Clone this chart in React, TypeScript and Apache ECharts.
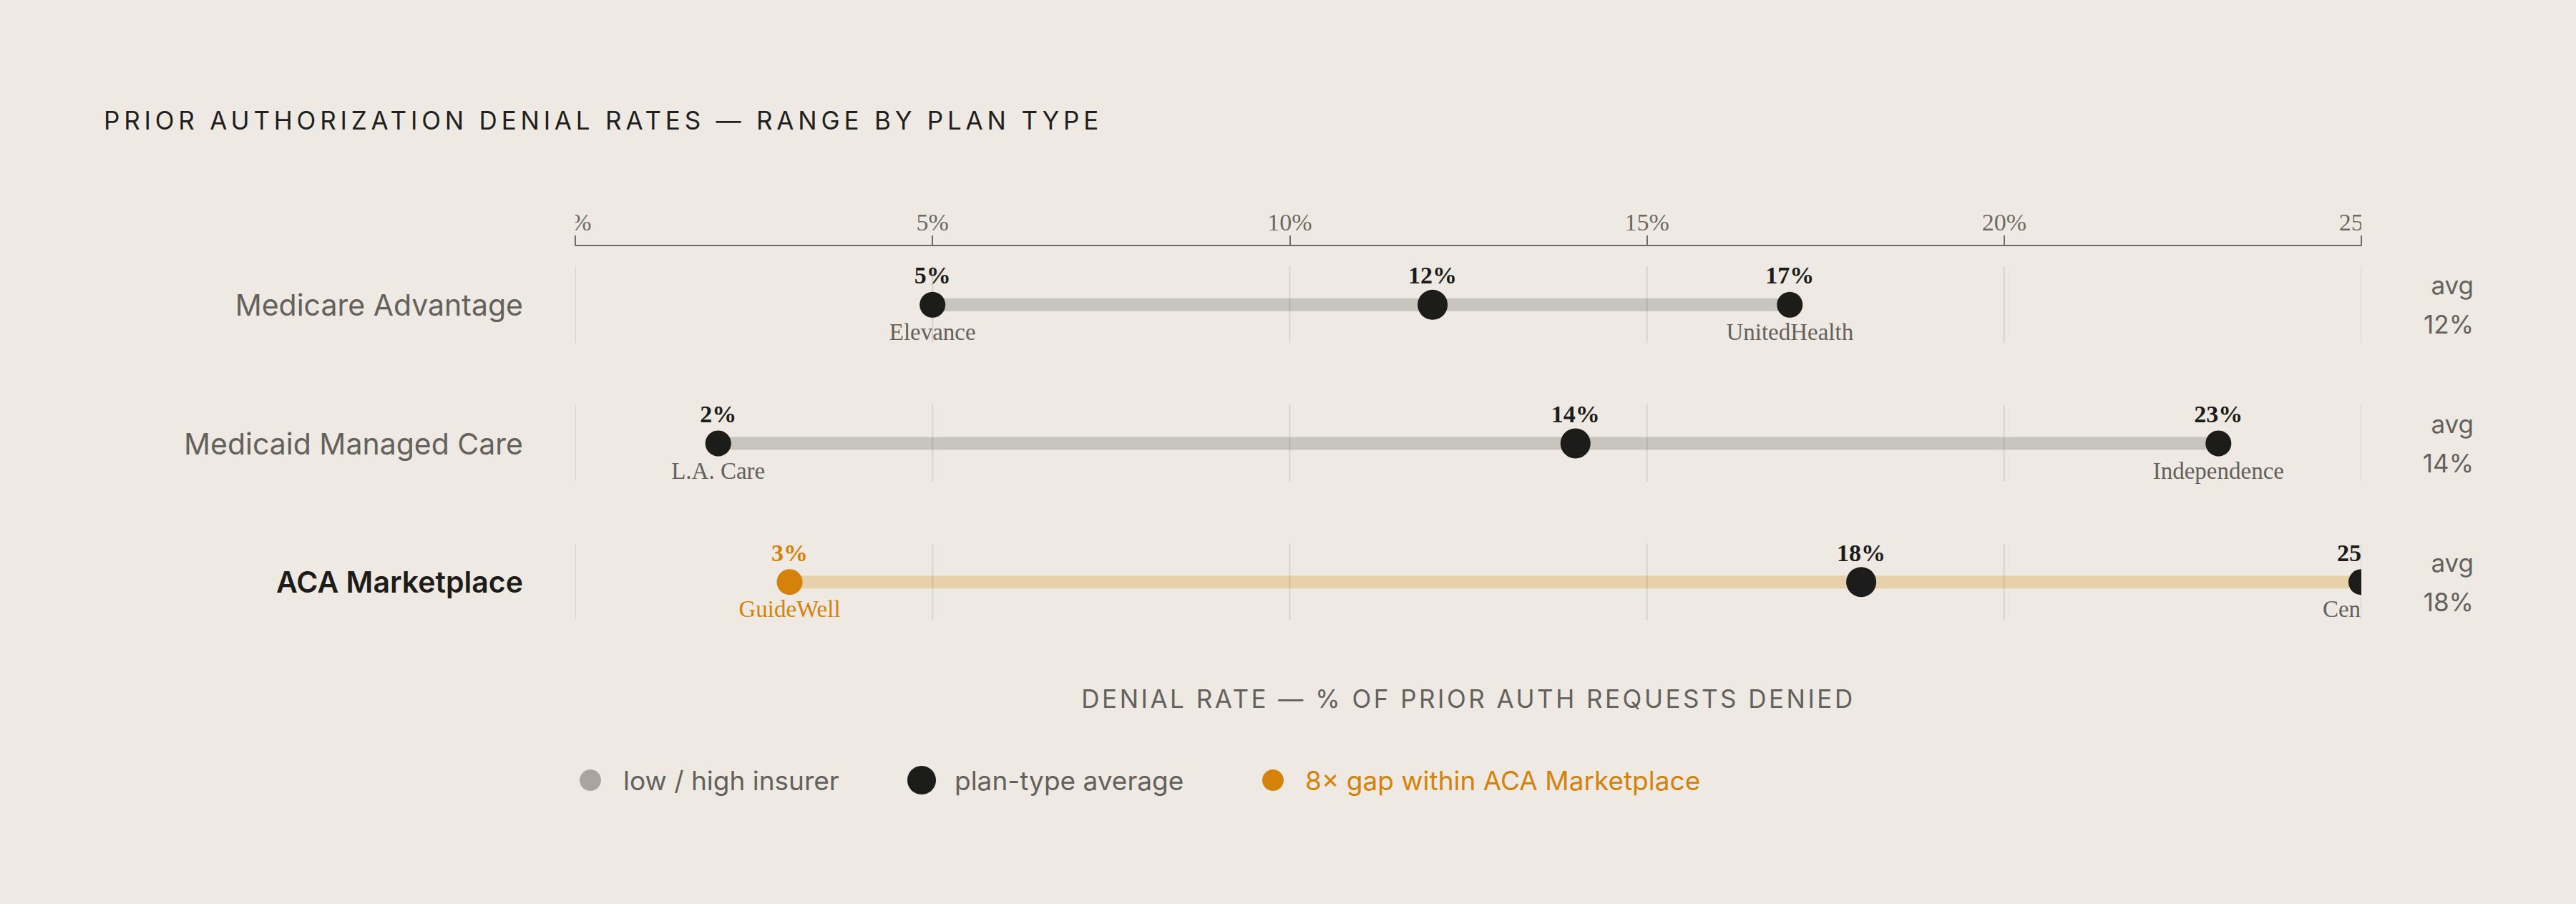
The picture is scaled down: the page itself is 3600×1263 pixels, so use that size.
import React, { useEffect, useRef } from "react";
import * as echarts from "echarts";

// ---- data ----
const PLAN_TYPES = ["Medicare Advantage", "Medicaid Managed Care", "ACA Marketplace"];
const LOW_VALUES = [5, 2, 3];
const AVG_VALUES = [12, 14, 18];
const HIGH_VALUES = [17, 23, 25];
const LOW_INSURERS = ["Elevance", "L.A. Care", "GuideWell"];
const HIGH_INSURERS = ["UnitedHealth", "Independence", "Centene"];
const TICK_VALUES = [0, 5, 10, 15, 20, 25];
const HIGHLIGHT_ROW = 2;

const TITLE = "PRIOR AUTHORIZATION DENIAL RATES — RANGE BY PLAN TYPE";
const AXIS_TITLE = "DENIAL RATE — % OF PRIOR AUTH REQUESTS DENIED";
const LEGEND_LABELS = ["low / high insurer", "plan-type average", "8× gap within ACA Marketplace"];

// ---- styles ----
const BG = "#eeeae3";
const DARK = "#1c1c1a";
const GREY_TEXT = "#64615c";
const ORANGE = "#d4820a";
const SANS = "Inter, 'Noto Sans', sans-serif";
const SERIF = "'Liberation Serif', 'DejaVu Serif', serif";

export default function App() {
  const ref = useRef<HTMLDivElement>(null);

  useEffect(() => {
    document.body.style.margin = "0";
    document.body.style.background = BG;
    const el = ref.current!;
    const chart = echarts.init(el, null, { renderer: "svg" });

    const rows = PLAN_TYPES.map((_, i) => [LOW_VALUES[i], AVG_VALUES[i], HIGH_VALUES[i], i]);

    const option: any = {
      animation: false,
      backgroundColor: BG,
      grid: [
        { left: 804, top: 329, width: 2496, height: 581 },
        { left: 804, top: 280, width: 2496, height: 63 },
      ],
      xAxis: [
        {
          type: "value",
          gridIndex: 0,
          min: 0,
          max: 25,
          interval: 5,
          axisLine: { show: false },
          axisTick: { show: false },
          axisLabel: { show: false },
          splitLine: { show: false },
        },
        {
          type: "value",
          gridIndex: 1,
          min: 0,
          max: 25,
          interval: 5,
          position: "bottom",
          axisLine: { show: true, lineStyle: { color: "#6f6c66", width: 2 } },
          axisTick: { show: true, inside: true, length: 14, lineStyle: { color: "#6f6c66", width: 2 } },
          axisLabel: { show: false },
          splitLine: { show: false },
        },
      ],
      yAxis: [
        {
          type: "category",
          gridIndex: 0,
          inverse: true,
          data: PLAN_TYPES,
          axisLine: { show: false },
          axisTick: { show: false },
          splitLine: { show: false },
          axisLabel: {
            margin: 73,
            fontFamily: SANS,
            fontSize: 41,
            color: GREY_TEXT,
            formatter: (v: string, i: number) => (i === HIGHLIGHT_ROW ? `{b|${v}}` : v),
            rich: {
              b: { fontFamily: SANS, fontSize: 41, fontWeight: 600, color: DARK },
            },
          },
        },
        {
          type: "category",
          gridIndex: 0,
          inverse: true,
          position: "right",
          data: PLAN_TYPES,
          axisLine: { show: false },
          axisTick: { show: false },
          splitLine: { show: false },
          axisLabel: {
            margin: 157,
            align: "right",
            fontFamily: SANS,
            fontSize: 35,
            lineHeight: 55,
            color: GREY_TEXT,
            formatter: (_v: string, i: number) => `avg\n${AVG_VALUES[i]}%`,
          },
        },
        { type: "value", gridIndex: 1, min: 0, max: 1, show: false },
      ],
      series: [
        {
          type: "custom",
          name: "ticks",
          xAxisIndex: 1,
          yAxisIndex: 2,
          clip: true,
          data: TICK_VALUES.map((v) => [v, 0]),
          encode: { x: 0, y: 1 },
          renderItem: (params: any, api: any) => {
            const v = api.value(0);
            const p = api.coord([v, 0]);
            return {
              type: "text",
              x: p[0],
              y: p[1] - 33,
              style: {
                text: `${v}%`,
                fill: "#6d6a64",
                fontFamily: SERIF,
                fontSize: 34,
                align: "center",
                verticalAlign: "middle",
              },
            };
          },
        },
        {
          type: "custom",
          name: "ranges",
          xAxisIndex: 0,
          yAxisIndex: 0,
          clip: true,
          data: rows,
          encode: { x: [0, 1, 2], y: 3 },
          renderItem: (params: any, api: any) => {
            const row = params.dataIndex;
            const low = api.value(0);
            const avg = api.value(1);
            const high = api.value(2);
            const [xl, yc] = api.coord([low, row]);
            const [xa] = api.coord([avg, row]);
            const [xh] = api.coord([high, row]);
            const hl = row === HIGHLIGHT_ROW;
            const children: any[] = [];
            children.push({
              type: "rect",
              shape: { x: xl, y: yc - 9, width: xh - xl, height: 18 },
              style: { fill: hl ? "#e7d1ab" : "#c8c5be" },
            });
            TICK_VALUES.forEach((t) => {
              const [xt] = api.coord([t, row]);
              children.push({
                type: "line",
                shape: { x1: xt, y1: yc - 54, x2: xt, y2: yc + 53 },
                style: { stroke: "rgba(70,60,50,0.13)", lineWidth: 2 },
              });
            });
            const lowColor = hl ? ORANGE : DARK;
            children.push({ type: "circle", shape: { cx: xl, cy: yc, r: 18 }, style: { fill: lowColor } });
            children.push({ type: "circle", shape: { cx: xh, cy: yc, r: 18 }, style: { fill: DARK } });
            children.push({ type: "circle", shape: { cx: xa, cy: yc, r: 21 }, style: { fill: DARK } });
            const valueLabel = (x: number, v: number, color: string) => ({
              type: "text",
              x,
              y: yc - 41,
              style: {
                text: `${v}%`,
                fill: color,
                fontFamily: SERIF,
                fontSize: 34,
                fontWeight: "bold",
                align: "center",
                verticalAlign: "middle",
              },
            });
            const nameLabel = (x: number, s: string, color: string) => ({
              type: "text",
              x,
              y: yc + 38,
              style: {
                text: s,
                fill: color,
                fontFamily: SERIF,
                fontSize: 33,
                align: "center",
                verticalAlign: "middle",
              },
            });
            children.push(valueLabel(xl, low, lowColor));
            children.push(valueLabel(xa, avg, DARK));
            children.push(valueLabel(xh, high, DARK));
            children.push(nameLabel(xl, LOW_INSURERS[row], hl ? ORANGE : GREY_TEXT));
            children.push(nameLabel(xh, HIGH_INSURERS[row], GREY_TEXT));
            return { type: "group", children };
          },
        },
      ],
      graphic: [
        {
          type: "text",
          x: 145,
          y: 168,
          style: {
            text: TITLE,
            fill: "#1f1f1d",
            fontFamily: SANS,
            fontSize: 35,
            align: "left",
            verticalAlign: "middle",
          },
        },
        {
          type: "text",
          x: 2052,
          y: 976,
          style: {
            text: AXIS_TITLE,
            fill: GREY_TEXT,
            fontFamily: SANS,
            fontSize: 35,
            align: "center",
            verticalAlign: "middle",
          },
        },
        { type: "circle", shape: { cx: 825, cy: 1090, r: 15 }, style: { fill: "#a8a59e" } },
        {
          type: "text",
          x: 871,
          y: 1090,
          style: { text: LEGEND_LABELS[0], fill: GREY_TEXT, fontFamily: SANS, fontSize: 37, verticalAlign: "middle" },
        },
        { type: "circle", shape: { cx: 1288, cy: 1090, r: 20 }, style: { fill: DARK } },
        {
          type: "text",
          x: 1334,
          y: 1090,
          style: { text: LEGEND_LABELS[1], fill: GREY_TEXT, fontFamily: SANS, fontSize: 37, verticalAlign: "middle" },
        },
        { type: "circle", shape: { cx: 1779, cy: 1090, r: 15 }, style: { fill: ORANGE } },
        {
          type: "text",
          x: 1824,
          y: 1090,
          style: { text: LEGEND_LABELS[2], fill: ORANGE, fontFamily: SANS, fontSize: 37, verticalAlign: "middle" },
        },
      ],
    };

    chart.setOption(option);

    const applySpacing = () => {
      el.querySelectorAll("text").forEach((t) => {
        const s = t.textContent || "";
        if (s === TITLE) (t as any).style.letterSpacing = "0.166em";
        if (s === AXIS_TITLE) (t as any).style.letterSpacing = "0.1em";
      });
    };
    applySpacing();
    chart.on("finished", applySpacing);

    return () => {
      chart.dispose();
    };
  }, []);

  return <div ref={ref} style={{ width: 3600, height: 1263, overflow: "hidden" }} />;
}
